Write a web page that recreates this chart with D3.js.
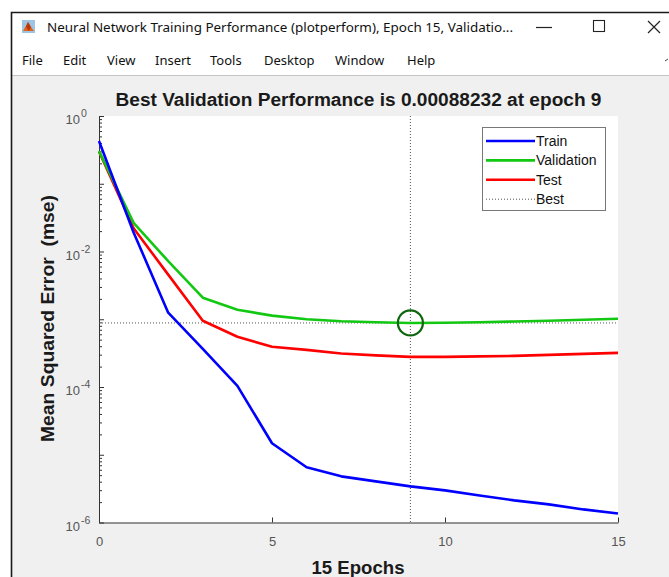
<!DOCTYPE html>
<html>
<head>
<meta charset="utf-8">
<script src="https://cdn.jsdelivr.net/npm/d3@7"></script>
<style>
body { margin: 0; background: #fff; }
svg { display: block; }
</style>
</head>
<body>
<div id="app"></div>
<script>
// epochs 0..15 and the three performance curves (mse)
var epochs = [0, 1, 2, 3, 4, 5, 6, 7, 8, 9, 10, 11, 12, 13, 14, 15];
var trainPerf = [0.427, 0.0191, 1.25e-3, 3.66e-4, 1.04e-4, 1.48e-5, 6.53e-6, 4.80e-6,
                 4.05e-6, 3.41e-6, 2.98e-6, 2.51e-6, 2.12e-6, 1.85e-6, 1.56e-6, 1.36e-6];
var valPerf = [0.303, 0.0265, 7.20e-3, 2.08e-3, 1.38e-3, 1.13e-3, 1.00e-3, 9.33e-4,
               9.04e-4, 8.8232e-4, 8.87e-4, 9.04e-4, 9.25e-4, 9.51e-4, 9.84e-4, 1.016e-3];
var testPerf = [0.300, 0.0220, 4.56e-3, 9.51e-4, 5.51e-4, 3.92e-4, 3.53e-4, 3.13e-4,
                2.93e-4, 2.78e-4, 2.78e-4, 2.83e-4, 2.88e-4, 2.98e-4, 3.08e-4, 3.19e-4];
var bestEpoch = 9;
var bestPerf = 0.00088232;
var xTicks = [0, 5, 10, 15];
var yLabelExps = [0, -2, -4, -6];
var legendNames = ["Train", "Validation", "Test", "Best"];
var menuItems = ["File", "Edit", "View", "Insert", "Tools", "Desktop", "Window", "Help"];

var opts = {
    width: 669,
    height: 577,
    left: 99,
    right: 618,
    top: 116,
    bottom: 522.5,
    figBg: "#f0f0f0",
    axisColor: "#333",
    tickTextColor: "#555",
    colors: { Train: "#0000ff", Validation: "#12c812", Test: "#ff0000" }
};

var svg = d3.select("#app")
    .append("svg")
    .attr("width", opts.width)
    .attr("height", opts.height);

/// WINDOW CHROME ////////////////////////////
svg.append("rect").attr("width", opts.width).attr("height", opts.height).attr("fill", "#fff");
// figure area
svg.append("rect")
    .attr("x", 12).attr("y", 76)
    .attr("width", opts.width - 12).attr("height", opts.height - 76)
    .attr("fill", opts.figBg);
svg.append("line")
    .attr("x1", 12).attr("x2", opts.width).attr("y1", 75.5).attr("y2", 75.5)
    .attr("stroke", "#c4c4c4");
// window border
svg.append("path")
    .attr("d", "M11.5," + opts.height + "V12.5H" + opts.width)
    .attr("fill", "none")
    .attr("stroke", "#1a1a1a")
    .attr("stroke-width", 1.6);

// little matlab icon
var icon = svg.append("g").attr("transform", "translate(22,20)");
icon.append("rect").attr("width", 13).attr("height", 13).attr("fill", "#9ec4e4");
icon.append("path").attr("d", "M1,11 L6,2 L9,7 L12,11 Z").attr("fill", "#e2641c");
icon.append("path").attr("d", "M6,2 L9,7 L7,11 L4,7 Z").attr("fill", "#b8380c");

svg.append("text")
    .attr("x", 47).attr("y", 32)
    .attr("font-family", "Noto Sans, sans-serif")
    .attr("font-size", 12.5)
    .attr("fill", "#111")
    .attr("textLength", 466)
    .attr("lengthAdjust", "spacingAndGlyphs")
    .text("Neural Network Training Performance (plotperform), Epoch 15, Validatio...");

// min / max / close buttons
svg.append("line").attr("x1", 536).attr("x2", 552).attr("y1", 27.5).attr("y2", 27.5)
    .attr("stroke", "#222").attr("stroke-width", 1.2);
svg.append("rect").attr("x", 593.5).attr("y", 20.5).attr("width", 11).attr("height", 11)
    .attr("fill", "none").attr("stroke", "#222").attr("stroke-width", 1.1);
svg.append("path").attr("d", "M648,21 L660,33 M660,21 L648,33")
    .attr("stroke", "#222").attr("stroke-width", 1.2);

var menuX = [22, 63, 107, 155, 210, 264, 335, 407];
svg.selectAll(".menu")
    .data(menuItems)
    .enter().append("text")
    .attr("class", "menu")
    .attr("x", function (d, i) { return menuX[i]; })
    .attr("y", 65)
    .attr("font-family", "Noto Sans, sans-serif")
    .attr("font-size", 13)
    .attr("fill", "#111")
    .text(function (d) { return d; });
svg.append("line").attr("x1", 665).attr("x2", 668).attr("y1", 61).attr("y2", 59)
    .attr("stroke", "#444");

/// AXES /////////////////////////////////////
var x = d3.scaleLinear().domain([0, 15]).range([opts.left, opts.right]);
var y = d3.scaleLog().domain([1e-6, 1]).range([opts.bottom, opts.top]);

svg.append("rect")
    .attr("x", opts.left).attr("y", opts.top)
    .attr("width", opts.right - opts.left).attr("height", opts.bottom - opts.top)
    .attr("fill", "#fff");

// minor + major log ticks
var majorVals = d3.range(-6, 1).map(function (e) { return Math.pow(10, e); });
var minorVals = [];
d3.range(-6, 0).forEach(function (e) {
    for (var m = 2; m <= 9; m++) minorVals.push(m * Math.pow(10, e));
});

svg.append("g")
    .attr("transform", "translate(" + opts.left + ",0)")
    .call(d3.axisLeft(y).tickValues(minorVals).tickSizeInner(-3).tickSizeOuter(0).tickFormat(""))
    .call(function (g) { g.select(".domain").remove(); })
    .selectAll("line").attr("stroke", opts.axisColor);

var yAxisG = svg.append("g")
    .attr("transform", "translate(" + opts.left + ",0)")
    .call(d3.axisLeft(y).tickValues(majorVals).tickSizeInner(-5).tickSizeOuter(0).tickFormat(""));
yAxisG.select(".domain").attr("stroke", opts.axisColor);
yAxisG.selectAll("line").attr("stroke", opts.axisColor);

svg.selectAll(".ylab")
    .data(yLabelExps)
    .enter().append("text")
    .attr("class", "ylab")
    .attr("x", 80)
    .attr("y", function (d) { return y(Math.pow(10, d)) + 8; })
    .attr("text-anchor", "end")
    .attr("font-family", "Liberation Sans, Arial, sans-serif")
    .attr("font-size", 13)
    .attr("fill", opts.tickTextColor)
    .text("10");
svg.selectAll(".yexp")
    .data(yLabelExps)
    .enter().append("text")
    .attr("class", "yexp")
    .attr("x", 81)
    .attr("y", function (d) { return y(Math.pow(10, d)) + 1; })
    .attr("font-family", "Liberation Sans, Arial, sans-serif")
    .attr("font-size", 10.5)
    .attr("fill", opts.tickTextColor)
    .text(function (d) { return d === 0 ? "0" : String(d); });

var xAxisG = svg.append("g")
    .attr("transform", "translate(0," + opts.bottom + ")")
    .call(d3.axisBottom(x).tickValues(xTicks).tickSizeInner(-5).tickSizeOuter(0).tickPadding(14));
xAxisG.select(".domain").attr("stroke", opts.axisColor);
xAxisG.selectAll("line").attr("stroke", opts.axisColor);
xAxisG.selectAll("text")
    .attr("font-family", "Liberation Sans, Arial, sans-serif")
    .attr("font-size", 13)
    .attr("fill", opts.tickTextColor);

/// BEST MARKERS /////////////////////////////
svg.append("line")
    .attr("x1", x(bestEpoch)).attr("x2", x(bestEpoch))
    .attr("y1", opts.top).attr("y2", opts.bottom)
    .attr("stroke", "#555").attr("stroke-width", 1).attr("stroke-dasharray", "1,2");
svg.append("line")
    .attr("x1", opts.left).attr("x2", opts.right)
    .attr("y1", y(bestPerf)).attr("y2", y(bestPerf))
    .attr("stroke", "#555").attr("stroke-width", 1).attr("stroke-dasharray", "1,2");

/// CURVES ///////////////////////////////////
var line = d3.line()
    .x(function (d, i) { return x(epochs[i]); })
    .y(function (d) { return y(d); });

var series = [
    { name: "Train", values: trainPerf },
    { name: "Validation", values: valPerf },
    { name: "Test", values: testPerf }
];

svg.selectAll(".curve")
    .data(series.slice().reverse())
    .enter().append("path")
    .attr("class", "curve")
    .attr("d", function (d) { return line(d.values); })
    .attr("fill", "none")
    .attr("stroke", function (d) { return opts.colors[d.name]; })
    .attr("stroke-width", 2.6)
    .attr("stroke-linejoin", "round");

svg.append("circle")
    .attr("cx", x(bestEpoch)).attr("cy", y(bestPerf))
    .attr("r", 12.5)
    .attr("fill", "none")
    .attr("stroke", "#0d660d")
    .attr("stroke-width", 2.2);

/// LEGEND ///////////////////////////////////
var legend = svg.append("g").attr("transform", "translate(482,127)");
legend.append("rect")
    .attr("x", 0.5).attr("y", 0.5).attr("width", 123).attr("height", 83)
    .attr("fill", "#fff").attr("stroke", "#777");
var rows = legend.selectAll(".row")
    .data(legendNames)
    .enter().append("g")
    .attr("class", "row")
    .attr("transform", function (d, i) { return "translate(0," + (14 + i * 19.4) + ")"; });
rows.append("line")
    .attr("x1", 4).attr("x2", 53).attr("y1", 0).attr("y2", 0)
    .attr("stroke", function (d) { return opts.colors[d] || "#555"; })
    .attr("stroke-width", function (d) { return d === "Best" ? 1 : 2.6; })
    .attr("stroke-dasharray", function (d) { return d === "Best" ? "1,2" : null; });
rows.append("text")
    .attr("x", 54).attr("y", 5)
    .attr("font-family", "Liberation Sans, Arial, sans-serif")
    .attr("font-size", 14)
    .attr("fill", "#111")
    .text(function (d) { return d; });

/// TITLES ///////////////////////////////////
svg.append("text")
    .attr("x", (opts.left + opts.right) / 2).attr("y", 106)
    .attr("text-anchor", "middle")
    .attr("font-family", "Liberation Sans, Arial, sans-serif")
    .attr("font-weight", "bold")
    .attr("font-size", 17.5)
    .attr("fill", "#1a1a1a")
    .attr("textLength", 486)
    .attr("lengthAdjust", "spacingAndGlyphs")
    .text("Best Validation Performance is 0.00088232 at epoch 9");

svg.append("text")
    .attr("x", 358).attr("y", 574)
    .attr("text-anchor", "middle")
    .attr("font-family", "Liberation Sans, Arial, sans-serif")
    .attr("font-weight", "bold")
    .attr("font-size", 18.5)
    .attr("fill", "#1a1a1a")
    .attr("textLength", 93)
    .attr("lengthAdjust", "spacingAndGlyphs")
    .text("15 Epochs");

svg.append("text")
    .attr("transform", "translate(54,318.5) rotate(-90)")
    .attr("text-anchor", "middle")
    .attr("font-family", "Liberation Sans, Arial, sans-serif")
    .attr("font-weight", "bold")
    .attr("font-size", 18)
    .attr("fill", "#1a1a1a")
    .attr("textLength", 247)
    .attr("lengthAdjust", "spacingAndGlyphs")
    .attr("xml:space", "preserve")
    .style("white-space", "pre")
    .text("Mean Squared Error  (mse)");
</script>
</body>
</html>
